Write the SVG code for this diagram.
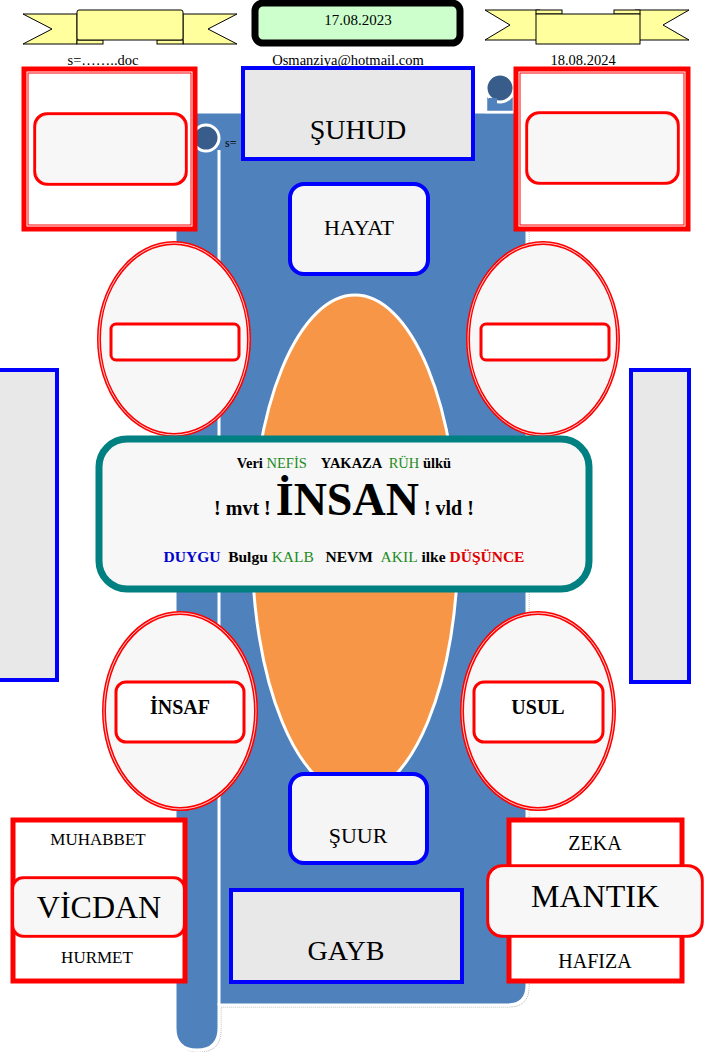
<svg xmlns="http://www.w3.org/2000/svg" width="704" height="1052" viewBox="0 0 704 1052">
<style>
text{font-family:"Liberation Serif","Times New Roman",serif;fill:#000}
.c{text-anchor:middle}
.b{font-weight:bold}
.rib{fill:#FFFF9E;stroke:#000;stroke-width:1}
.redbox{fill:#fff;stroke:#f00;stroke-width:5}
.redin{fill:none;stroke:#f00;stroke-width:1}
.redrr{fill:#F7F7F7;stroke:#f00;stroke-width:3.5}
.whl{fill:none;stroke:#fff;stroke-width:0.8}
.oval{fill:#F7F7F7;stroke:#f00;stroke-width:4}
.bluebox{fill:#E8E8E8;stroke:#00f;stroke-width:4}
.bluerr{fill:#F5F5F5;stroke:#00f;stroke-width:4}
.g{fill:#228B22;font-weight:normal}
</style>
<rect width="704" height="1052" fill="#fff"/>

<g id="scroll">
  <path d="M175,112 H527 V985 Q527,1005 507,1005 H219 V1028 Q219,1050 197,1050 Q175,1050 175,1028 Z" fill="none" stroke="#999" stroke-width="0.8" stroke-dasharray="1,1" transform="translate(2,2)"/>
  <path d="M175,112 H527 V985 Q527,1005 507,1005 H219 V1028 Q219,1050 197,1050 Q175,1050 175,1028 Z" fill="#4F81BD" stroke="#fff" stroke-width="3"/>
  <line x1="219" y1="150" x2="219" y2="1005" stroke="#fff" stroke-width="3"/>
  <circle cx="206" cy="138" r="13" fill="#385D8A" stroke="#fff" stroke-width="3"/>
  <rect x="486" y="96" width="28" height="16" fill="#4F81BD" stroke="#fff" stroke-width="2.5"/>
  <circle cx="500" cy="88" r="14" fill="#385D8A" stroke="#fff" stroke-width="3"/>
  <rect x="489" y="98" width="8" height="12" fill="#4F81BD"/>
  <ellipse cx="355" cy="545" rx="103" ry="250" fill="#F79646" stroke="#fff" stroke-width="3"/>
</g>

<g id="ribbon-left">
  <polygon class="rib" points="23,14 77,14 77,44 23,44 52,29"/>
  <polygon class="rib" points="237,14 183,14 183,44 237,44 208,29"/>
  <rect class="rib" x="77" y="40" width="26" height="4"/>
  <rect class="rib" x="157" y="40" width="26" height="4"/>
  <rect class="rib" x="77" y="10" width="106" height="30" rx="2"/>
</g>
<g id="ribbon-right">
  <polygon class="rib" points="485,10 540,10 540,40 485,40 510,25"/>
  <polygon class="rib" points="689,10 635,10 635,40 689,40 663,25"/>
  <rect class="rib" x="536" y="10" width="26" height="4"/>
  <rect class="rib" x="614" y="10" width="26" height="4"/>
  <rect class="rib" x="536" y="14" width="104" height="30"/>
</g>
<g id="date-box">
  <rect x="255" y="3" width="205" height="40" rx="8" fill="#CCFFCC" stroke="#000" stroke-width="7"/>
  <text class="c" x="358" y="25" font-size="15">17.08.2023</text>
</g>
<g id="header-texts">
  <text class="c" x="103" y="65" font-size="14.5">s=……..doc</text>
  <text class="c" x="348" y="65" font-size="14.5">Osmanziya@hotmail.com</text>
  <text class="c" x="583" y="65" font-size="14.5">18.08.2024</text>
  <text x="225" y="147" font-size="12">s=</text>
</g>

<g id="box-top-left">
  <rect class="redbox" x="24" y="69" width="171" height="160"/>
  <rect class="redin" x="28" y="73" width="163" height="152"/>
  <rect class="redrr" x="35" y="114" width="151" height="70" rx="12"/>
  <rect class="whl" x="36.5" y="115.5" width="148" height="67" rx="11"/>
</g>
<g id="box-top-right">
  <rect class="redbox" x="516" y="69" width="172" height="160"/>
  <rect class="redin" x="520" y="73" width="164" height="152"/>
  <rect class="redrr" x="527" y="113" width="151" height="70" rx="12"/>
  <rect class="whl" x="528.5" y="114.5" width="148" height="67" rx="11"/>
</g>

<g id="suhud">
  <rect class="bluebox" x="243" y="68" width="230" height="91"/>
  <text class="c" x="358" y="139" font-size="28">ŞUHUD</text>
</g>
<g id="hayat">
  <rect class="bluerr" x="290" y="184" width="138" height="90" rx="14"/>
  <text class="c" x="359" y="235" font-size="22">HAYAT</text>
</g>

<g id="side-left">
  <rect class="bluebox" x="-2" y="370" width="59" height="310"/>
</g>
<g id="side-right">
  <rect class="bluebox" x="631" y="370" width="58" height="312"/>
</g>

<g id="oval-top-left">
  <ellipse class="oval" cx="174" cy="339" rx="75" ry="96"/>
  <ellipse class="whl" cx="174" cy="339" rx="75" ry="96"/>
  <rect x="111" y="324" width="128" height="36" rx="5" fill="#fff" stroke="#f00" stroke-width="3"/>
</g>
<g id="oval-top-right">
  <ellipse class="oval" cx="543" cy="339" rx="75" ry="96"/>
  <ellipse class="whl" cx="543" cy="339" rx="75" ry="96"/>
  <rect x="481" y="324" width="128" height="36" rx="5" fill="#fff" stroke="#f00" stroke-width="3"/>
</g>

<g id="oval-insaf">
  <ellipse class="oval" cx="180" cy="711" rx="76" ry="98"/>
  <ellipse class="whl" cx="180" cy="711" rx="76" ry="98"/>
  <rect x="116" y="682" width="128" height="60" rx="10" fill="#fff" stroke="#f00" stroke-width="3"/>
  <text class="c b" x="180" y="714" font-size="20">İNSAF</text>
</g>
<g id="oval-usul">
  <ellipse class="oval" cx="538" cy="711" rx="76" ry="98"/>
  <ellipse class="whl" cx="538" cy="711" rx="76" ry="98"/>
  <rect x="474" y="682" width="129" height="60" rx="10" fill="#fff" stroke="#f00" stroke-width="3"/>
  <text class="c b" x="538" y="714" font-size="20">USUL</text>
</g>

<g id="insan">
  <rect x="99" y="439" width="490" height="150" rx="28" fill="#F7F7F7" stroke="#008080" stroke-width="7"/>
  <text class="c b" x="344" y="468" font-size="14.5" xml:space="preserve">Veri <tspan class="g">NEFİS</tspan>    YAKAZA  <tspan class="g">RÜH</tspan> ülkü</text>
  <text class="c b" x="344" y="515" font-size="20" xml:space="preserve">! mvt ! <tspan font-size="46">İNSAN</tspan> ! vld !</text>
  <text class="c b" x="344" y="562" font-size="15.5" xml:space="preserve"><tspan fill="#0000CC">DUYGU</tspan>  Bulgu <tspan class="g">KALB</tspan>   NEVM  <tspan class="g">AKIL</tspan> ilke <tspan fill="#E00000">DÜŞÜNCE</tspan></text>
</g>

<g id="suur">
  <rect class="bluerr" x="290" y="774" width="137" height="89" rx="14"/>
  <text class="c" x="358" y="843" font-size="22">ŞUUR</text>
</g>
<g id="gayb">
  <rect class="bluebox" x="231" y="890" width="231" height="92"/>
  <text class="c" x="346" y="960" font-size="28">GAYB</text>
</g>

<g id="vicdan-group">
  <rect class="redbox" x="13" y="820" width="172" height="161"/>
  <text class="c" x="98" y="845" font-size="17">MUHABBET</text>
  <rect class="redrr" x="13" y="878" width="171" height="58" rx="10"/>
  <rect class="whl" x="14.5" y="879.5" width="168" height="55" rx="9"/>
  <text class="c" x="99" y="918" font-size="32">VİCDAN</text>
  <text class="c" x="97" y="963" font-size="17">HURMET</text>
</g>
<g id="mantik-group">
  <rect class="redbox" x="509" y="820" width="173" height="161"/>
  <text class="c" x="595" y="850" font-size="20">ZEKA</text>
  <rect class="redrr" x="488" y="866" width="214" height="70" rx="14"/>
  <rect class="whl" x="489.5" y="867.5" width="211" height="67" rx="13"/>
  <text class="c" x="595" y="907" font-size="32">MANTIK</text>
  <text class="c" x="595" y="968" font-size="20">HAFIZA</text>
</g>

<g id="connectors"></g>
</svg>
